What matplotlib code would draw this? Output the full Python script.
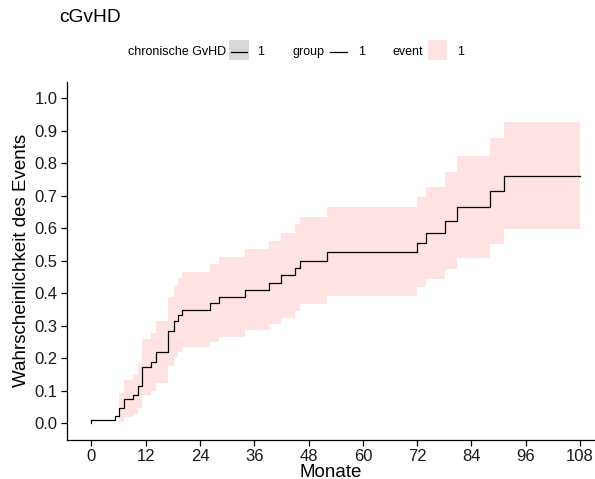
import matplotlib
matplotlib.use("Agg")
import matplotlib.pyplot as plt
from matplotlib.patches import Rectangle
from matplotlib.lines import Line2D

plt.rcParams['font.family'] = ['Liberation Sans', 'DejaVu Sans']

# step times (months) and cumulative incidence
times = [0, 0, 5.2, 6.1, 7.1, 9.2, 10.2, 11.1, 13.2, 14.2, 16.9, 18.2, 19.1, 20.0,
         26.2, 28.1, 33.9, 39.2, 42.0, 45.1, 46.0, 52.1, 71.9, 74.0, 78.1, 80.9,
         88.0, 91.1, 108]
est = [0.0, 0.009, 0.023, 0.048, 0.075, 0.086, 0.116, 0.172, 0.189, 0.218, 0.285,
       0.316, 0.332, 0.348, 0.369, 0.387, 0.409, 0.432, 0.456, 0.477, 0.500,
       0.528, 0.554, 0.585, 0.622, 0.666, 0.715, 0.762, 0.762]

# confidence band (starts at 6.1 months)
ci_times = times[3:]
upper = [0.094, 0.133, 0.149, 0.186, 0.259, 0.279, 0.314, 0.388, 0.426, 0.446,
         0.465, 0.489, 0.513, 0.536, 0.561, 0.585, 0.613, 0.636, 0.666, 0.695,
         0.728, 0.773, 0.822, 0.879, 0.928, 0.928]
lower = [0.005, 0.018, 0.028, 0.046, 0.087, 0.099, 0.123, 0.176, 0.205, 0.220,
         0.234, 0.251, 0.266, 0.287, 0.306, 0.324, 0.346, 0.367, 0.393, 0.420,
         0.444, 0.474, 0.508, 0.551, 0.597, 0.597]

xticks = [0, 12, 24, 36, 48, 60, 72, 84, 96, 108]
yticks = [0.0, 0.1, 0.2, 0.3, 0.4, 0.5, 0.6, 0.7, 0.8, 0.9, 1.0]

W, H = 595, 479
fig = plt.figure(figsize=(W / 100, H / 100), dpi=100)
ax = fig.add_axes([67 / W, (H - 439.5) / H, (595 - 67) / W, (439.5 - 82) / H])

band_color = '#FFE3E3'
ax.fill_between(ci_times, lower, upper, step='post', color=band_color, linewidth=0)
ax.step(times, est, where='post', color='black', linewidth=0.9)

ax.set_xlim(-5.4, 111.3)
ax.set_ylim(-0.05, 1.05)
ax.set_xticks(xticks)
ax.set_yticks(yticks)
ax.set_yticklabels([f"{v:.1f}" for v in yticks])
for s in ['top', 'right']:
    ax.spines[s].set_visible(False)
for s in ['left', 'bottom']:
    ax.spines[s].set_linewidth(0.9)
ax.tick_params(axis='both', direction='out', length=4, width=0.9,
               labelsize=12, labelcolor='#1a1a1a')
ax.tick_params(axis='x', pad=2.5)
ax.tick_params(axis='y', pad=3)
ax.set_xlabel('Monate', fontsize=13.5, labelpad=0)
ax.set_ylabel('Wahrscheinlichkeit des Events', fontsize=13.5, labelpad=3)

# title
fig.text(59 / W, 1 - 17 / H, 'cGvHD', fontsize=13.8, ha='left', va='center')

# legend (manual, figure pixel coords)
ly = 1 - 52 / H
fs = 9
fig.text(127.7 / W, ly, 'chronische GvHD', fontsize=fs, ha='left', va='center')
fig.patches.append(Rectangle((228.7 / W, 1 - 60 / H), 20 / W, 20 / H,
                             transform=fig.transFigure, color='#D9D9D9', lw=0))
fig.lines.append(Line2D([230.5 / W, 247 / W], [ly, ly], transform=fig.transFigure,
                        color='black', lw=0.9))
fig.text(256.7 / W, ly, '1', fontsize=fs, ha='left', va='center')
fig.text(292.3 / W, ly, 'group', fontsize=fs, ha='left', va='center')
fig.lines.append(Line2D([330 / W, 347.3 / W], [ly, ly], transform=fig.transFigure,
                        color='black', lw=0.9))
fig.text(358.3 / W, ly, '1', fontsize=fs, ha='left', va='center')
fig.text(392.3 / W, ly, 'event', fontsize=fs, ha='left', va='center')
fig.patches.append(Rectangle((427.7 / W, 1 - 60 / H), 19.6 / W, 20 / H,
                             transform=fig.transFigure, color=band_color, lw=0))
fig.text(456.7 / W, ly, '1', fontsize=fs, ha='left', va='center')

fig.savefig('out.png', dpi=100)
